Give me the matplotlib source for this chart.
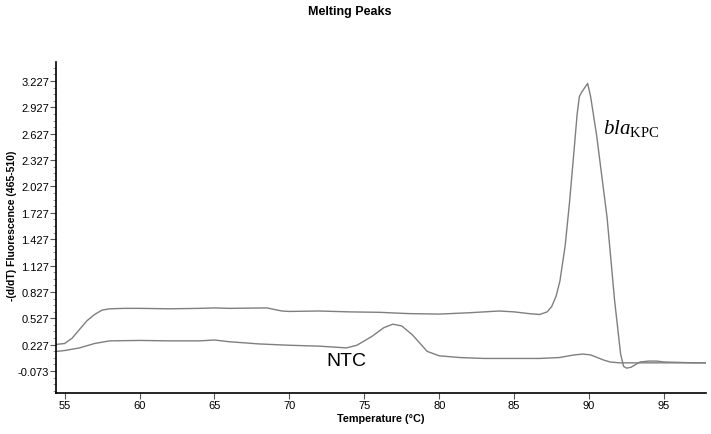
"""
Melting peak curves (-(d/dT) fluorescence vs temperature), saved as out.png.
"""

import matplotlib
matplotlib.use("Agg")
import matplotlib.pyplot as plt
import numpy as np
from matplotlib.ticker import FixedLocator

plt.rcParams.update({
    "font.family": "Liberation Sans",
    "mathtext.fontset": "custom",
    "mathtext.rm": "Liberation Serif",
    "mathtext.it": "Liberation Serif:italic",
})

# bla_KPC sample curve
kpc_temp = [54.45, 55.0, 55.5, 56.0, 56.5, 57.0, 57.5, 58.0, 59.0, 60.0, 62.0, 64.0,
            65.0, 66.0, 68.5, 69.5, 70.0, 72.0, 74.0, 76.0, 78.0, 80.0, 82.0, 84.0,
            85.0, 86.0, 86.7, 87.2, 87.5, 87.8, 88.05, 88.4, 88.7, 89.0, 89.2, 89.35,
            89.5, 89.7, 89.9, 90.1, 90.5, 91.2, 91.7, 92.1, 92.3, 92.5, 92.8, 93.4,
            94.0, 94.5, 95.0, 96.0, 97.0, 97.8]
kpc_val = [0.23, 0.24, 0.30, 0.40, 0.50, 0.57, 0.62, 0.635, 0.64, 0.64, 0.635, 0.64,
           0.645, 0.64, 0.645, 0.61, 0.605, 0.61, 0.60, 0.595, 0.58, 0.575, 0.59, 0.61,
           0.60, 0.58, 0.57, 0.60, 0.66, 0.78, 0.95, 1.35, 1.86, 2.45, 2.85, 3.05,
           3.10, 3.15, 3.20, 3.05, 2.61, 1.67, 0.73, 0.12, -0.02, -0.04, -0.03, 0.03,
           0.04, 0.04, 0.03, 0.025, 0.02, 0.02]

# no-template control curve
ntc_temp = [54.45, 55.0, 56.0, 57.0, 58.0, 60.0, 62.0, 64.0, 65.0, 66.0, 68.0, 70.0,
            72.0, 73.8, 74.5, 75.5, 76.3, 76.9, 77.5, 78.2, 79.2, 80.0, 81.4, 83.0,
            85.0, 86.7, 88.0, 89.0, 89.6, 90.1, 91.0, 91.4, 92.0, 94.0, 96.0, 97.8]
ntc_val = [0.15, 0.16, 0.19, 0.24, 0.27, 0.275, 0.27, 0.27, 0.28, 0.26, 0.235, 0.22,
           0.21, 0.19, 0.22, 0.32, 0.42, 0.46, 0.44, 0.34, 0.15, 0.10, 0.08, 0.07,
           0.07, 0.07, 0.08, 0.11, 0.12, 0.11, 0.05, 0.03, 0.02, 0.02, 0.02, 0.02]

x_ticks = [55, 60, 65, 70, 75, 80, 85, 90, 95]
y_ticks = [-0.073, 0.227, 0.527, 0.827, 1.127, 1.427, 1.727, 2.027, 2.327, 2.627, 2.927, 3.227]

LINE = "#7f7f7f"

fig = plt.figure(figsize=(7.11, 4.35), dpi=100)
ax = fig.add_axes([0.0788, 0.0943, 0.9142, 0.7607])

ax.plot(kpc_temp, kpc_val, color=LINE, lw=1.0)
ax.plot(ntc_temp, ntc_val, color=LINE, lw=1.0)

ax.set_xlim(54.43, 97.8)
ax.set_ylim(-0.323, 3.443)

ax.xaxis.set_major_locator(FixedLocator(x_ticks))
ax.yaxis.set_major_locator(FixedLocator(y_ticks))
ax.set_yticklabels([f"{v:.3f}" for v in y_ticks])
ax.yaxis.set_minor_locator(FixedLocator(np.arange(-0.298, 3.44, 0.075)))
ax.tick_params(axis="both", labelsize=8, direction="out", width=0.8, color="#555555")
ax.tick_params(axis="y", which="major", length=4, pad=1)
ax.tick_params(axis="y", which="minor", length=2.5, width=0.7, color="#999999")
ax.tick_params(axis="x", which="major", length=4, pad=1)

for side in ("top", "right"):
    ax.spines[side].set_visible(False)
for side in ("left", "bottom"):
    ax.spines[side].set_linewidth(1.2)

ax.set_xlabel("Temperature (°C)", fontsize=7.8, fontweight="bold", labelpad=2)
ax.set_ylabel("-(d/dT) Fluorescence (465-510)", fontsize=7.6, fontweight="bold",
              va="center")
ax.yaxis.set_label_coords(-0.067, 0.507)
fig.text(0.492, 0.972, "Melting Peaks", ha="center", va="center",
         fontsize=9, fontweight="bold")

ax.text(90.9, 2.70, r"$\mathit{bla}_{\mathrm{KPC}}$", fontsize=15, ha="left", va="center")
ax.text(72.5, 0.045, "NTC", fontsize=14, ha="left", va="center")

fig.savefig("out.png", dpi=100)
